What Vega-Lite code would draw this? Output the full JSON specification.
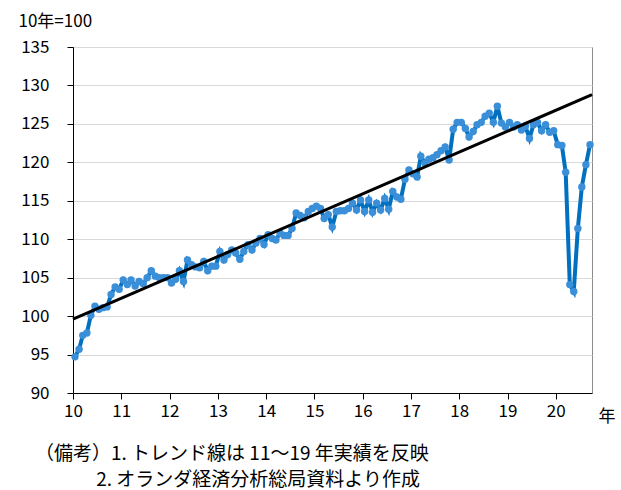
{
  "$schema": "https://vega.github.io/schema/vega-lite/v6.json",
  "width": 519,
  "height": 346,
  "autosize": "none",
  "padding": {"left": 73, "top": 47, "right": 29, "bottom": 97},
  "background": "white",
  "config": {
    "font": "Noto Sans CJK JP",
    "view": {"stroke": "#8c8c8c", "strokeWidth": 1}
  },
  "title": {
    "text": ["（備考）1. トレンド線は 11～19 年実績を反映", "\u200b\u3000\u3000\u3000 2. オランダ経済分析総局資料より作成"],
    "orient": "bottom",
    "anchor": "start",
    "frame": "group",
    "align": "left",
    "dx": -38,
    "offset": 21,
    "fontSize": 19,
    "fontWeight": "normal",
    "lineHeight": 26,
    "color": "#000000",
    "font": "Noto Sans CJK JP"
  },
  "datasets": {
    "series": [
      {"date": "2010-01-16", "v": 94.7}, {"date": "2010-02-16", "v": 95.7}, {"date": "2010-03-16", "v": 97.5}, {"date": "2010-04-16", "v": 97.8},
      {"date": "2010-05-16", "v": 100.1}, {"date": "2010-06-16", "v": 101.3}, {"date": "2010-07-16", "v": 100.9}, {"date": "2010-08-16", "v": 101.1},
      {"date": "2010-09-16", "v": 101.2}, {"date": "2010-10-16", "v": 102.8}, {"date": "2010-11-16", "v": 103.8}, {"date": "2010-12-16", "v": 103.5},
      {"date": "2011-01-16", "v": 104.7}, {"date": "2011-02-16", "v": 104.1}, {"date": "2011-03-16", "v": 104.7}, {"date": "2011-04-16", "v": 103.9},
      {"date": "2011-05-16", "v": 104.5}, {"date": "2011-06-16", "v": 104.2}, {"date": "2011-07-16", "v": 105.0}, {"date": "2011-08-16", "v": 105.9},
      {"date": "2011-09-16", "v": 105.2}, {"date": "2011-10-16", "v": 105.0}, {"date": "2011-11-16", "v": 105.0}, {"date": "2011-12-16", "v": 105.0},
      {"date": "2012-01-16", "v": 104.3}, {"date": "2012-02-16", "v": 104.8}, {"date": "2012-03-16", "v": 105.9}, {"date": "2012-04-16", "v": 104.5},
      {"date": "2012-05-16", "v": 107.3}, {"date": "2012-06-16", "v": 106.7}, {"date": "2012-07-16", "v": 106.4}, {"date": "2012-08-16", "v": 106.3},
      {"date": "2012-09-16", "v": 107.1}, {"date": "2012-10-16", "v": 105.9}, {"date": "2012-11-16", "v": 106.5}, {"date": "2012-12-16", "v": 106.5},
      {"date": "2013-01-16", "v": 108.4}, {"date": "2013-02-16", "v": 107.3}, {"date": "2013-03-16", "v": 108.0}, {"date": "2013-04-16", "v": 108.6},
      {"date": "2013-05-16", "v": 108.2}, {"date": "2013-06-16", "v": 107.4}, {"date": "2013-07-16", "v": 108.4}, {"date": "2013-08-16", "v": 109.3},
      {"date": "2013-09-16", "v": 108.6}, {"date": "2013-10-16", "v": 109.5}, {"date": "2013-11-16", "v": 110.1}, {"date": "2013-12-16", "v": 109.3},
      {"date": "2014-01-16", "v": 110.6}, {"date": "2014-02-16", "v": 110.1}, {"date": "2014-03-16", "v": 109.9}, {"date": "2014-04-16", "v": 110.8},
      {"date": "2014-05-16", "v": 110.5}, {"date": "2014-06-16", "v": 110.5}, {"date": "2014-07-16", "v": 111.4}, {"date": "2014-08-16", "v": 113.4},
      {"date": "2014-09-16", "v": 113.1}, {"date": "2014-10-16", "v": 112.8}, {"date": "2014-11-16", "v": 113.6}, {"date": "2014-12-16", "v": 114.0},
      {"date": "2015-01-16", "v": 114.3}, {"date": "2015-02-16", "v": 114.0}, {"date": "2015-03-16", "v": 112.7}, {"date": "2015-04-16", "v": 113.2},
      {"date": "2015-05-16", "v": 111.6}, {"date": "2015-06-16", "v": 113.6}, {"date": "2015-07-16", "v": 113.7}, {"date": "2015-08-16", "v": 113.7},
      {"date": "2015-09-16", "v": 114.0}, {"date": "2015-10-16", "v": 114.7}, {"date": "2015-11-16", "v": 113.8}, {"date": "2015-12-16", "v": 115.1},
      {"date": "2016-01-16", "v": 113.6}, {"date": "2016-02-16", "v": 115.1}, {"date": "2016-03-16", "v": 113.5}, {"date": "2016-04-16", "v": 114.7},
      {"date": "2016-05-16", "v": 113.8}, {"date": "2016-06-16", "v": 115.3}, {"date": "2016-07-16", "v": 113.9}, {"date": "2016-08-16", "v": 116.2},
      {"date": "2016-09-16", "v": 115.5}, {"date": "2016-10-16", "v": 115.2}, {"date": "2016-11-16", "v": 117.8}, {"date": "2016-12-16", "v": 119.0},
      {"date": "2017-01-16", "v": 118.5}, {"date": "2017-02-16", "v": 118.1}, {"date": "2017-03-16", "v": 120.8}, {"date": "2017-04-16", "v": 119.9},
      {"date": "2017-05-16", "v": 120.4}, {"date": "2017-06-16", "v": 120.6}, {"date": "2017-07-16", "v": 121.0}, {"date": "2017-08-16", "v": 121.5},
      {"date": "2017-09-16", "v": 122.0}, {"date": "2017-10-16", "v": 120.3}, {"date": "2017-11-16", "v": 124.3}, {"date": "2017-12-16", "v": 125.2},
      {"date": "2018-01-16", "v": 125.2}, {"date": "2018-02-16", "v": 124.4}, {"date": "2018-03-16", "v": 123.3}, {"date": "2018-04-16", "v": 124.0},
      {"date": "2018-05-16", "v": 124.9}, {"date": "2018-06-16", "v": 125.2}, {"date": "2018-07-16", "v": 126.0}, {"date": "2018-08-16", "v": 126.4},
      {"date": "2018-09-16", "v": 125.2}, {"date": "2018-10-16", "v": 127.3}, {"date": "2018-11-16", "v": 125.1}, {"date": "2018-12-16", "v": 124.6},
      {"date": "2019-01-16", "v": 125.2}, {"date": "2019-02-16", "v": 124.6}, {"date": "2019-03-16", "v": 124.9}, {"date": "2019-04-16", "v": 124.2},
      {"date": "2019-05-16", "v": 124.7}, {"date": "2019-06-16", "v": 123.1}, {"date": "2019-07-16", "v": 124.9}, {"date": "2019-08-16", "v": 125.2},
      {"date": "2019-09-16", "v": 124.1}, {"date": "2019-10-16", "v": 124.9}, {"date": "2019-11-16", "v": 123.9}, {"date": "2019-12-16", "v": 124.1},
      {"date": "2020-01-16", "v": 122.3}, {"date": "2020-02-16", "v": 122.2}, {"date": "2020-03-16", "v": 118.7}, {"date": "2020-04-16", "v": 104.1},
      {"date": "2020-05-16", "v": 103.2}, {"date": "2020-06-16", "v": 111.4}, {"date": "2020-07-16", "v": 116.8}, {"date": "2020-08-16", "v": 119.7},
      {"date": "2020-09-16", "v": 122.3}
    ],
    "trend": [
      {"date": "2010-01-01", "v": 99.6},
      {"date": "2020-10-01", "v": 128.8}
    ]
  },
  "encoding": {
    "x": {
      "field": "date",
      "type": "temporal",
      "scale": {
        "type": "utc",
        "nice": false,
        "domain": [
          {"year": 2010, "month": 1, "date": 1, "utc": true},
          {"year": 2020, "month": 10, "date": 1, "utc": true}
        ]
      },
      "axis": {
        "title": "年",
        "titleAngle": 0,
        "titleX": 525,
        "titleY": 28,
        "titleAlign": "left",
        "titleBaseline": "alphabetic",
        "titleFontSize": 17,
        "titleFontWeight": "normal",
        "titleColor": "#000000",
        "format": "%y",
        "tickCount": {"interval": "year", "step": 1},
        "grid": false,
        "domainColor": "#000000",
        "domainWidth": 1,
        "tickColor": "#000000",
        "tickSize": 6,
        "labelFontSize": 17,
        "labelColor": "#000000",
        "labelPadding": 4,
        "labelFlush": false,
        "labelOverlap": false
      }
    },
    "y": {
      "field": "v",
      "type": "quantitative",
      "scale": {"domain": [90, 135], "nice": false, "zero": false},
      "axis": {
        "title": "10年=100",
        "titleAngle": 0,
        "titleX": -55,
        "titleY": -21,
        "titleAlign": "left",
        "titleBaseline": "alphabetic",
        "titleFontSize": 17,
        "titleFontWeight": "normal",
        "titleColor": "#000000",
        "values": [90, 95, 100, 105, 110, 115, 120, 125, 130, 135],
        "grid": true,
        "gridColor": "#d9d9d9",
        "gridWidth": 1,
        "domainColor": "#000000",
        "domainWidth": 1,
        "tickColor": "#000000",
        "tickSize": 6,
        "labelFontSize": 17,
        "labelColor": "#000000",
        "labelPadding": 18
      }
    }
  },
  "layer": [
    {
      "data": {"name": "series"},
      "mark": {"type": "line", "color": "#0070c0", "strokeWidth": 4}
    },
    {
      "data": {"name": "series"},
      "mark": {"type": "point", "filled": true, "size": 55, "color": "#3a8fd8", "opacity": 1}
    },
    {
      "data": {"name": "trend"},
      "mark": {"type": "line", "color": "#000000", "strokeWidth": 3}
    }
  ]
}
